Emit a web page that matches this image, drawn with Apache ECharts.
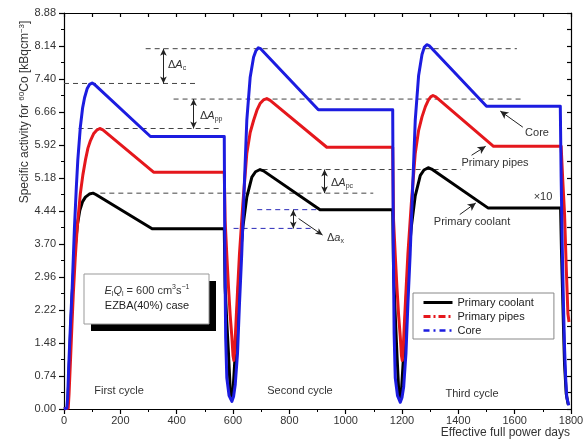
<!DOCTYPE html>
<html><head><meta charset="utf-8">
<script src="https://cdn.jsdelivr.net/npm/echarts@6/dist/echarts.min.js"></script>
<style>html,body{margin:0;padding:0;background:#fff}#c{width:587px;height:441px}</style>
</head><body><div id="c"></div>
<script>
// ---- data (days, 60Co specific activity) ----
const coreDays = [0,10,13,17,23,29,37,44,49,58,66,73,82,91,100,108,307,569,571,574,578,586,596,602,608,616,623,631,640,649,661,673,681,690,698,903,1167,1169,1172,1176,1184,1194,1200,1206,1214,1221,1229,1238,1247,1259,1271,1279,1288,1296,1500,1762,1765,1769,1773,1777,1781,1785,1792];
const coreValues = [0,0.02,0.25,1.0,1.9,2.7,4.05,5.0,5.58,6.32,6.75,6.98,7.18,7.28,7.31,7.28,6.11,6.11,3.5,1.6,0.7,0.3,0.17,0.28,0.55,1.24,2.36,3.48,4.98,6.47,7.44,7.89,8.03,8.10,8.08,6.71,6.71,3.8,1.7,0.7,0.3,0.15,0.26,0.5,1.24,2.36,3.48,4.98,6.47,7.48,7.95,8.11,8.17,8.15,6.79,6.79,5.2,3.63,2.4,1.39,0.7,0.26,0.08];

const pipesDays = [0,15,18,23,28,33,40,47,58,67,76,85,94,105,116,127,138,318,569,572,578,584,590,596,600,603,606,611,617,623,635,649,661,673,685,696,708,720,732,933,1167,1170,1176,1182,1188,1194,1198,1201,1204,1209,1215,1221,1233,1247,1259,1271,1283,1294,1302,1310,1320,1525,1765,1771,1777,1783,1789,1793];
const pipesValues = [0,0.02,0.35,1.09,1.85,2.58,3.4,4.08,4.83,5.25,5.58,5.85,6.02,6.17,6.25,6.29,6.26,5.31,5.31,4.23,3.45,2.73,2.1,1.61,1.2,1.09,1.3,1.99,2.75,3.48,4.6,5.73,6.2,6.47,6.7,6.85,6.93,6.96,6.92,5.87,5.87,4.23,3.45,2.73,2.1,1.61,1.2,1.09,1.3,1.99,2.75,3.48,4.6,5.73,6.25,6.55,6.78,6.93,7.0,7.03,7.0,5.89,5.89,5.1,4.38,3.2,2.14,1.95];

const coolantDays = [0,12,15,19.5,24,29,35,41,48,56,66,76,90,103,113,313,569,572,578,584,590,594,600,608,619,627,635,649,667,680,696,708,909,1167,1170,1176,1182,1188,1192,1198,1206,1217,1225,1233,1247,1265,1278,1293,1305,1505,1763,1766,1769,1773,1777,1783,1790];
const coolantValues = [0,0.02,0.35,1.09,1.85,2.58,3.2,3.71,4.15,4.45,4.65,4.75,4.82,4.84,4.81,4.04,4.04,2.73,1.95,1.24,0.45,0.22,0.4,1.24,2.73,3.5,4.08,4.75,5.2,5.32,5.37,5.34,4.47,4.47,3.1,2.1,1.24,0.45,0.22,0.4,1.24,2.73,3.5,4.08,4.78,5.24,5.36,5.41,5.38,4.51,4.51,3.6,2.88,1.9,1.01,0.34,0.1];

// reference (peak / plateau) levels: [fromDay, toDay, level]
const peakRefLines = [[0,478,7.30],[290,1608,8.08],[52,549,6.29],[389,1627,6.95],[129,1098,4.84],[705,1409,5.37]];
const plateauRefLines = [[686,911,4.47],[602,887,4.05]];
// difference arrows: [day, low, high]
const diffArrows = [[353,7.30,8.08],[460,6.29,6.95],[925,4.84,5.37],[814,4.05,4.47]];
// label pointers: [fromDay, fromVal, toDay, toVal]
const pointers = [[1629,6.32,1549,6.68],[1447,5.69,1497,5.89],[1405,4.36,1462,4.62]];
const squiggle = [[833,4.27],[918,3.90]];

const seriesNames = ['Primary coolant','Primary pipes','Core'];
const xTickLabels = ['0','200','400','600','800','1000','1200','1400','1600','1800'];
const yTickLabels = ['0.00','0.74','1.48','2.22','2.96','3.70','4.44','5.18','5.92','6.66','7.40','8.14','8.88'];

const FONT = '"Liberation Sans", Arial, Helvetica, sans-serif';
const zip = (d, v) => d.map((x, i) => [x, v[i]]);

const chart = echarts.init(document.getElementById('c'), null, {renderer:'canvas'});

const series = [];
const mainColors = ['#000000','#e5171c','#1c1ce0'];
const mainData = [zip(coolantDays, coolantValues), zip(pipesDays, pipesValues), zip(coreDays, coreValues)];
mainData.forEach((d, i) => {
  series.push({name: seriesNames[i], type:'line', data:d, symbol:'none', silent:true, animation:false,
    lineStyle:{color:mainColors[i], width:3, join:'round'}, itemStyle:{color:mainColors[i]}, z:5+i});
});
peakRefLines.forEach(r => {
  series.push({type:'line', data:[[r[0],r[2]],[r[1],r[2]]], symbol:'none', silent:true, animation:false,
    lineStyle:{color:'#444', width:1, type:[5,4]}, z:3});
});
plateauRefLines.forEach(r => {
  series.push({type:'line', data:[[r[0],r[2]],[r[1],r[2]]], symbol:'none', silent:true, animation:false,
    lineStyle:{color:'#2a2ab8', width:1, type:[5,4]}, z:3});
});
series.push({type:'line', data:[], silent:true, animation:false,
  markLine:{silent:true, animation:false, symbol:['arrow','arrow'], symbolSize:[5,7], label:{show:false},
    lineStyle:{color:'#222', width:1, type:'solid'},
    data: diffArrows.map(a => [{coord:[a[0],a[1]]},{coord:[a[0],a[2]]}])}});
series.push({type:'line', data:[], silent:true, animation:false,
  markLine:{silent:true, animation:false, symbol:['none','arrow'], symbolSize:[6,8], label:{show:false},
    lineStyle:{color:'#222', width:1, type:'solid'},
    data: pointers.map(p => [{coord:[p[0],p[1]]},{coord:[p[2],p[3]]}])}});
series.push({type:'line', data:[], silent:true, animation:false,
  markLine:{silent:true, animation:false, symbol:['none','arrow'], symbolSize:[5,7], label:{show:false},
    lineStyle:{color:'#222', width:1, type:'solid', curveness:0.45},
    data: [[{coord:squiggle[0]},{coord:squiggle[1]}]]}});

const txt = (x, y, text, opts) => Object.assign({type:'text', x:x, y:y, silent:true, z:50,
  style:Object.assign({text:text, fill:'#222', fontSize:11, fontFamily:FONT, align:'center', verticalAlign:'middle'}, (opts||{}).style||{})},
  (opts||{}).el||{});

const richDelta = {
  n:{fontSize:11, fontFamily:FONT, fill:'#333', lineHeight:14},
  i:{fontSize:11, fontFamily:FONT, fontStyle:'italic', fill:'#333', lineHeight:14},
  s:{fontSize:7, fontFamily:FONT, fill:'#333', lineHeight:7, verticalAlign:'bottom'},
  p:{fontSize:7, fontFamily:FONT, fill:'#333', lineHeight:7, verticalAlign:'top'}
};
const richName = {
  n:{fontSize:12, fontFamily:FONT, fill:'#333', lineHeight:15},
  p:{fontSize:8, fontFamily:FONT, fill:'#333', lineHeight:8, verticalAlign:'top'}
};

const graphic = [
  // info box with shadow
  {type:'rect', silent:true, z:40, shape:{x:91, y:281, width:125, height:50}, style:{fill:'#000'}},
  {type:'rect', silent:true, z:41, shape:{x:84, y:274, width:125, height:50}, style:{fill:'#fff', stroke:'#999', lineWidth:1}},
  txt(147, 291, '{i|E}{s|l}{i|Q}{s|l}{n| = 600 cm}{p|3}{n|s}{p|−1}', {style:{rich:richDelta}, el:{z:45}}),
  txt(147, 306, 'EZBA(40%) case', {el:{z:45}}),
  // axis names
  txt(570, 433, 'Effective full power days', {style:{align:'right', fill:'#333', fontSize:12}}),
  txt(25, 112, '{n|Specific activity for }{p|60}{n|Co [kBqcm}{p|−3}{n|]}', {style:{rich:richName}, el:{rotation:Math.PI/2}}),
  // cycle labels
  txt(119, 391, 'First cycle', {style:{fill:'#333'}}),
  txt(300, 391, 'Second cycle', {style:{fill:'#333'}}),
  txt(472, 394, 'Third cycle', {style:{fill:'#333'}}),
  // delta labels
  txt(168, 65, '{n|Δ}{i|A}{s|c}', {style:{rich:richDelta, align:'left'}}),
  txt(200, 116, '{n|Δ}{i|A}{s|pp}', {style:{rich:richDelta, align:'left'}}),
  txt(331, 183, '{n|Δ}{i|A}{s|pc}', {style:{rich:richDelta, align:'left'}}),
  txt(327, 238, '{n|Δ}{i|a}{s|x}', {style:{rich:richDelta, align:'left'}}),
  // curve labels
  txt(537, 133, 'Core', {style:{fill:'#333'}}),
  txt(495, 163, 'Primary pipes', {style:{fill:'#333'}}),
  txt(472, 222, 'Primary coolant', {style:{fill:'#333'}}),
  txt(543, 197, '×10', {style:{fill:'#333'}})
];

const axisLine = {onZero:false, lineStyle:{color:'#000', width:1.2}};
const hideSym = {opacity:0, borderWidth:0};
const option = {
  animation:false,
  backgroundColor:'#fff',
  grid:{left:64, right:16, top:13, bottom:32, containLabel:false},
  legend:{orient:'vertical', left:413, top:293, itemWidth:29, itemHeight:12, itemGap:3,
    padding:[4,20,3,9], borderColor:'#888', borderWidth:1, backgroundColor:'#fff', selectedMode:false,
    itemStyle:hideSym,
    textStyle:{fontSize:11, color:'#222', fontFamily:FONT},
    data:[
      {name:seriesNames[0], itemStyle:hideSym, lineStyle:{type:'solid', width:3}},
      {name:seriesNames[1], itemStyle:hideSym, lineStyle:{type:[7,3,2,3], width:3}},
      {name:seriesNames[2], itemStyle:hideSym, lineStyle:{type:[6,4,2,4], width:2.5}}
    ]},
  xAxis:[
    {type:'value', min:0, max:1800, interval:200, position:'bottom', axisLine:axisLine,
      axisTick:{show:true, inside:false, length:5, lineStyle:{color:'#000', width:1.2}},
      minorTick:{show:true, splitNumber:2, length:3, lineStyle:{color:'#000', width:1}},
      splitLine:{show:false}, minorSplitLine:{show:false},
      axisLabel:{fontSize:11, color:'#333', fontFamily:FONT, margin:6,
        formatter:(v)=>{const i=Math.round(v/200); return xTickLabels[i]!==undefined?xTickLabels[i]:'';}}},
    {type:'value', min:0, max:1800, interval:100, position:'top', axisLine:axisLine,
      axisTick:{show:true, inside:true, length:4, lineStyle:{color:'#000', width:1.2}},
      splitLine:{show:false}, axisLabel:{show:false}}
  ],
  yAxis:[
    {type:'value', min:0, max:8.88, interval:0.74, position:'left', axisLine:axisLine,
      axisTick:{show:true, inside:false, length:5, lineStyle:{color:'#000', width:1.2}},
      minorTick:{show:true, splitNumber:2, length:3, lineStyle:{color:'#000', width:1}},
      splitLine:{show:false}, minorSplitLine:{show:false},
      axisLabel:{fontSize:11, color:'#333', fontFamily:FONT, margin:8,
        formatter:(v)=>{const i=Math.round(v/0.74); return yTickLabels[i]!==undefined?yTickLabels[i]:'';}}},
    {type:'value', min:0, max:8.88, interval:0.37, position:'right', axisLine:axisLine,
      axisTick:{show:true, inside:true, length:4, lineStyle:{color:'#000', width:1.2}},
      splitLine:{show:false}, axisLabel:{show:false}}
  ],
  series:series,
  graphic:graphic
};
chart.setOption(option);
</script></body></html>
